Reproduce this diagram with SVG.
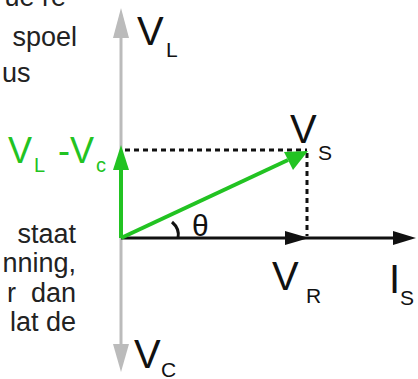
<svg xmlns="http://www.w3.org/2000/svg" width="418" height="379" viewBox="0 0 418 379">
<style>
.t{font-family:"Liberation Sans",Arial,sans-serif;font-size:27px;fill:#222}
.big{font-family:"Liberation Sans",Arial,sans-serif;font-size:40px;fill:#111}
.sub{font-family:"Liberation Sans",Arial,sans-serif;font-size:21px;fill:#111}
.g{font-family:"Liberation Sans",Arial,sans-serif;fill:#22c322}
.dash{stroke:#111;stroke-width:3;stroke-dasharray:5 4;fill:none}
</style>
<rect width="418" height="379" fill="#fff"/>
<g id="paragraph">
<text class="t" x="66" y="6" text-anchor="end">ue re</text>
<text class="t" x="77" y="46" text-anchor="end">spoel</text>
<text class="t" x="2" y="82">us</text>
<text class="t" x="76" y="243" text-anchor="end">staat</text>
<text class="t" x="76" y="272" text-anchor="end">nning,</text>
<text class="t" x="76" y="302" text-anchor="end" xml:space="preserve">r  dan</text>
<text class="t" x="76" y="331" text-anchor="end">lat de</text>
</g>
<g id="connectors">
<line x1="121" y1="34" x2="121" y2="348" stroke="#bbb" stroke-width="3"/>
<polygon points="121,8 113,38 129,38" fill="#bbb"/>
<polygon points="121,372 113,344 129,344" fill="#bbb"/>
<line x1="125" y1="150" x2="307" y2="150" class="dash"/>
<line x1="307" y1="153" x2="307" y2="236" class="dash"/>
<line x1="121" y1="238" x2="400" y2="238" stroke="#111" stroke-width="3"/>
<polygon points="309,238 285,231 285,245" fill="#111"/>
<polygon points="416,238 393,231 393,245" fill="#111"/>
<line x1="121" y1="238" x2="121" y2="168" stroke="#22c322" stroke-width="4"/>
<polygon points="121,145 113,170 129,170" fill="#22c322"/>
<line x1="121" y1="238" x2="288" y2="160" stroke="#22c322" stroke-width="4"/>
<polygon points="308,151 284,152 293,170" fill="#22c322"/>
<path d="M172,222 Q180,229 178,238" stroke="#111" stroke-width="3" fill="none"/>
</g>
<g id="labels">
<text class="big" x="137" y="45">V</text><text class="sub" x="166" y="57">L</text>
<text class="big" x="134" y="368">V</text><text class="sub" x="161" y="377">C</text>
<text class="big" x="290" y="143">V</text><text class="sub" x="318" y="160">S</text>
<text class="big" x="272" y="290">V</text><text class="sub" x="306" y="303">R</text>
<text class="big" x="389" y="293">I</text><text class="sub" x="400" y="305">S</text>
<text x="192" y="236" style="font-family:'Liberation Sans',Arial,sans-serif;font-size:30px;fill:#111">θ</text>
<text class="g" x="8" y="163" font-size="36">V</text>
<text class="g" x="34" y="172" font-size="20">L</text>
<text class="g" x="58" y="163" font-size="36">-V</text>
<text class="g" x="96" y="172" font-size="20">c</text>
</g>
</svg>
